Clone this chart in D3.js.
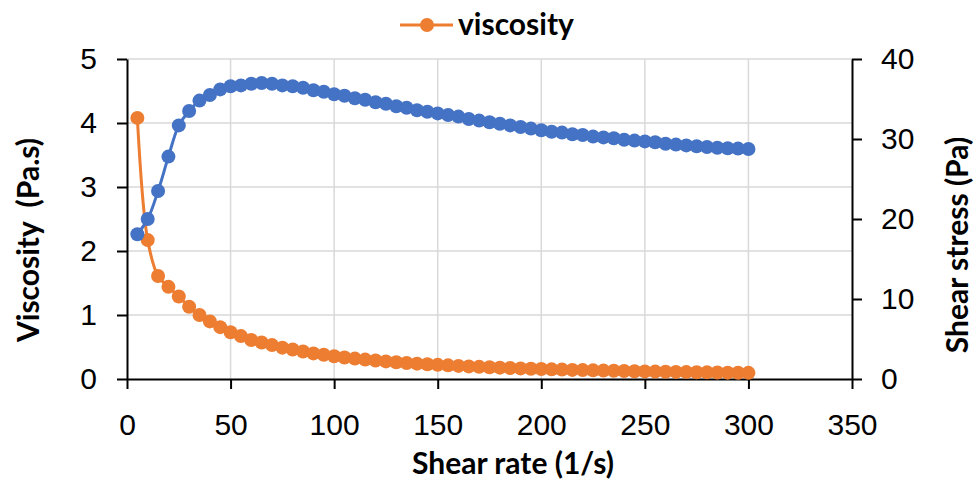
<!DOCTYPE html>
<html>
<head>
<meta charset="utf-8">
<script src="https://cdn.jsdelivr.net/npm/d3@7"></script>
<style>
  html, body { margin: 0; padding: 0; background: #fff; }
  svg { font-family: Lato, "Open Sans", sans-serif; }
</style>
</head>
<body>
<div id="chart"></div>
<script>
// shear rate (1/s)
const shearRate = [5, 10, 15, 20, 25, 30, 35, 40, 45, 50, 55, 60, 65, 70, 75, 80, 85, 90, 95, 100,
    105, 110, 115, 120, 125, 130, 135, 140, 145, 150, 155, 160, 165, 170, 175, 180, 185, 190, 195, 200,
    205, 210, 215, 220, 225, 230, 235, 240, 245, 250, 255, 260, 265, 270, 275, 280, 285, 290, 295, 300];

// viscosity (Pa.s) - left axis
const viscosity = [4.08, 2.17, 1.61, 1.44, 1.29, 1.13, 1.00, 0.90, 0.81, 0.73, 0.67, 0.61, 0.57, 0.53, 0.49, 0.46, 0.43, 0.40, 0.38, 0.356,
    0.337, 0.319, 0.303, 0.288, 0.275, 0.262, 0.251, 0.240, 0.230, 0.221, 0.213, 0.205, 0.197, 0.190, 0.183, 0.177, 0.171, 0.166, 0.161, 0.156,
    0.151, 0.147, 0.142, 0.139, 0.135, 0.131, 0.128, 0.125, 0.122, 0.119, 0.116, 0.113, 0.111, 0.108, 0.106, 0.104, 0.101, 0.099, 0.098, 0.096];

// shear stress (Pa) - right axis
const shearStress = [18.1, 20.0, 23.5, 27.8, 31.7, 33.5, 34.8, 35.5, 36.2, 36.6, 36.7, 36.9, 37.0, 36.9, 36.7, 36.6, 36.4, 36.1, 35.9, 35.6,
    35.4, 35.1, 34.9, 34.6, 34.4, 34.1, 33.9, 33.6, 33.4, 33.2, 33.0, 32.8, 32.5, 32.3, 32.1, 31.9, 31.7, 31.5, 31.3, 31.1,
    30.9, 30.8, 30.6, 30.5, 30.3, 30.2, 30.1, 29.9, 29.8, 29.7, 29.6, 29.4, 29.3, 29.2, 29.1, 29.0, 28.9, 28.85, 28.8, 28.75];

const xTicks = [0, 50, 100, 150, 200, 250, 300, 350];
const leftTicks = [0, 1, 2, 3, 4, 5];
const rightTicks = [0, 10, 20, 30, 40];

const width = 976, height = 479;
const margin = { top: 59, right: 124, bottom: 100, left: 127 };
const orange = "#ED7D31", blue = "#4472C4", grid = "#D9D9D9";

const svg = d3.select("#chart").append("svg")
    .attr("width", width)
    .attr("height", height);

const x = d3.scaleLinear().domain([0, 350]).range([margin.left, width - margin.right]);
const yL = d3.scaleLinear().domain([0, 5]).range([height - margin.bottom, margin.top]);
const yR = d3.scaleLinear().domain([0, 40]).range([height - margin.bottom, margin.top]);

// gridlines
svg.append("g")
    .selectAll("line")
    .data(leftTicks.slice(1))
    .join("line")
    .attr("x1", x(0)).attr("x2", x(350))
    .attr("y1", d => yL(d)).attr("y2", d => yL(d))
    .attr("stroke", grid).attr("stroke-width", 1.5);

svg.append("g")
    .selectAll("line")
    .data(xTicks.slice(1, -1))
    .join("line")
    .attr("x1", d => x(d)).attr("x2", d => x(d))
    .attr("y1", yL(0)).attr("y2", yL(5))
    .attr("stroke", grid).attr("stroke-width", 1.5);

// axes
function styleAxis(g) {
    g.select(".domain").attr("stroke", "#000").attr("stroke-width", 2);
    g.selectAll(".tick line").attr("stroke", "#000").attr("stroke-width", 2);
    g.selectAll(".tick text").attr("fill", "#000").style("font-size", "30px");
}

svg.append("g")
    .attr("transform", `translate(0,${yL(0)})`)
    .call(d3.axisBottom(x).tickValues(xTicks).tickSize(10).tickSizeOuter(0).tickPadding(25))
    .call(styleAxis);

svg.append("g")
    .attr("transform", `translate(${x(0)},0)`)
    .call(d3.axisLeft(yL).tickValues(leftTicks).tickFormat(d3.format("d"))
        .tickSize(10).tickSizeOuter(0).tickPadding(20))
    .call(styleAxis);

svg.append("g")
    .attr("transform", `translate(${x(350)},0)`)
    .call(d3.axisRight(yR).tickValues(rightTicks).tickSize(10).tickSizeOuter(0).tickPadding(19))
    .call(styleAxis);

// series
const visData = shearRate.map((r, i) => ({ r, v: viscosity[i] }));
const stressData = shearRate.map((r, i) => ({ r, v: shearStress[i] }));

function drawSeries(data, yScale, color) {
    svg.append("path")
        .datum(data)
        .attr("fill", "none")
        .attr("stroke", color)
        .attr("stroke-width", 3)
        .attr("d", d3.line().curve(d3.curveCatmullRom).x(d => x(d.r)).y(d => yScale(d.v)));

    svg.append("g")
        .selectAll("circle")
        .data(data)
        .join("circle")
        .attr("cx", d => x(d.r))
        .attr("cy", d => yScale(d.v))
        .attr("r", 7)
        .attr("fill", color);
}

drawSeries(visData, yL, orange);
drawSeries(stressData, yR, blue);

// axis titles
svg.append("text")
    .attr("x", 513)
    .attr("y", 474)
    .attr("text-anchor", "middle")
    .style("font-size", "30px")
    .style("font-weight", "bold")
    .text("Shear rate (1/s)");

svg.append("text")
    .attr("transform", `translate(39,240) rotate(-90)`)
    .attr("text-anchor", "middle")
    .style("font-size", "30px")
    .style("font-weight", "bold")
    .style("white-space", "pre")
    .text("Viscosity  (Pa.s)");

svg.append("text")
    .attr("transform", `translate(968,245) rotate(-90)`)
    .attr("text-anchor", "middle")
    .style("font-size", "30px")
    .style("font-weight", "bold")
    .text("Shear stress (Pa)");

// legend
const legend = svg.append("g");
legend.append("line")
    .attr("x1", 400).attr("x2", 453)
    .attr("y1", 25).attr("y2", 25)
    .attr("stroke", orange).attr("stroke-width", 3);
legend.append("circle")
    .attr("cx", 427).attr("cy", 25).attr("r", 7)
    .attr("fill", orange);
legend.append("text")
    .attr("x", 458).attr("y", 35)
    .style("font-size", "30px")
    .style("font-weight", "bold")
    .text("viscosity");
</script>
</body>
</html>
